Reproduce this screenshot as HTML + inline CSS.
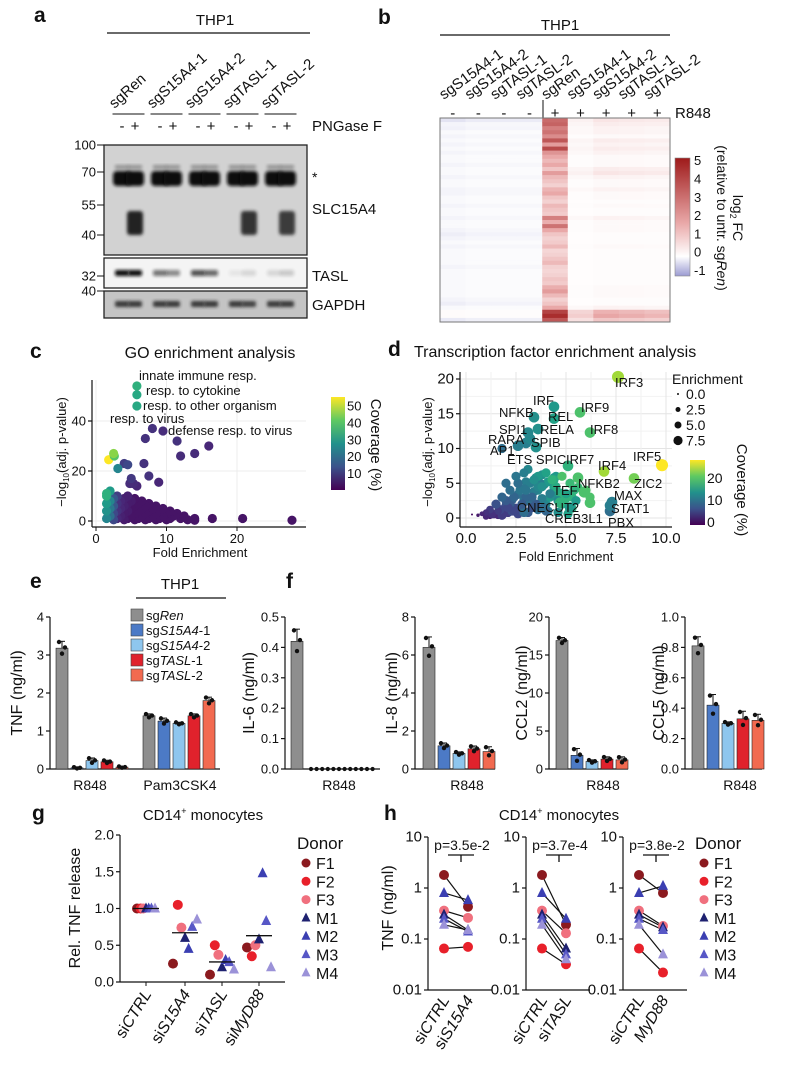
<!DOCTYPE html>
<html><head><meta charset="utf-8"><style>
html,body{margin:0;padding:0;background:#fff;}
svg{display:block;font-family:"Liberation Sans",Arial,sans-serif;}
text{fill:#111;}
.pl{font-size:21px;font-weight:bold;}
.tk{font-size:12px;}
</style></head><body>
<svg id="fig" width="800" height="1067" viewBox="0 0 800 1067">
<defs>
<filter id="blur1" x="-20%" y="-50%" width="140%" height="200%"><feGaussianBlur stdDeviation="1.6"/></filter>
<linearGradient id="hmgrad" x1="0" y1="1" x2="0" y2="0">
<stop offset="0" stop-color="#9b9bd2"/><stop offset="0.1667" stop-color="#ffffff"/><stop offset="0.45" stop-color="#e9a8a8"/><stop offset="1" stop-color="#9e1a1a"/></linearGradient>
<linearGradient id="virgrad" x1="0" y1="1" x2="0" y2="0">
<stop offset="0" stop-color="#440154"/><stop offset="0.25" stop-color="#3b528b"/><stop offset="0.5" stop-color="#21918c"/><stop offset="0.75" stop-color="#5ec962"/><stop offset="1" stop-color="#fde725"/></linearGradient>
</defs>

<text class="pl" x="34" y="22">a</text>
<text class="pl" x="378" y="24">b</text>
<text class="pl" x="30" y="358">c</text>
<text class="pl" x="388" y="356">d</text>
<text class="pl" x="30" y="588">e</text>
<text class="pl" x="286" y="588">f</text>
<text class="pl" x="32" y="820">g</text>
<text class="pl" x="384" y="820">h</text>

<text x="215" y="25" font-size="15" text-anchor="middle">THP1</text>
<line x1="107" y1="33" x2="310" y2="33" stroke="#111" stroke-width="1.2"/>
<text x="312" y="131" font-size="15">PNGase F</text>
<rect x="104" y="145" width="203" height="110" fill="#d2d2d2" stroke="#222" stroke-width="1.3"/>
<rect x="104" y="258" width="203" height="30" fill="#f4f4f4" stroke="#222" stroke-width="1.3"/>
<rect x="104" y="291" width="203" height="27" fill="#c4c4c4" stroke="#222" stroke-width="1.3"/>
<g id="blotBands"></g>
<text x="312" y="182" font-size="14">*</text>
<text x="312" y="214" font-size="15">SLC15A4</text>
<text x="312" y="281" font-size="15">TASL</text>
<text x="312" y="310" font-size="15">GAPDH</text>
<g id="mw" font-size="13" text-anchor="end"></g>

<text x="560" y="30" font-size="15" text-anchor="middle">THP1</text>
<line x1="440" y1="35" x2="670" y2="35" stroke="#111" stroke-width="1.2"/>
<text x="675" y="118" font-size="15">R848</text>
<line x1="543" y1="100" x2="543" y2="127" stroke="#111" stroke-width="1"/>
<g id="heat"></g>
<rect x="440" y="118" width="230" height="204" fill="none" stroke="#777" stroke-width="1"/>
<rect x="675" y="158" width="15" height="118" fill="url(#hmgrad)" stroke="#888" stroke-width="0.6"/>
<g id="hmcb" font-size="13"></g>
<text transform="translate(733,218) rotate(90)" font-size="14" text-anchor="middle">log<tspan font-size="9" dy="3">2</tspan><tspan dy="-3"> FC</tspan></text>
<text transform="translate(717,218) rotate(90)" font-size="14" text-anchor="middle">(relative to untr. sg<tspan font-style="italic">Ren</tspan>)</text>

<text x="210" y="358" font-size="16" text-anchor="middle">GO enrichment analysis</text>
<text transform="translate(66,452) rotate(-90)" font-size="13" text-anchor="middle">−log<tspan font-size="8" dy="3">10</tspan><tspan dy="-3">(adj. p-value)</tspan></text>
<text x="200" y="557" font-size="13" text-anchor="middle">Fold Enrichment</text>
<rect x="331" y="397" width="14" height="93" fill="url(#virgrad)"/>
<text transform="translate(371,445) rotate(90)" font-size="15" text-anchor="middle">Coverage (%)</text>

<text x="414" y="357" font-size="16">Transcription factor enrichment analysis</text>
<text transform="translate(432,452) rotate(-90)" font-size="13" text-anchor="middle">−log<tspan font-size="8" dy="3">10</tspan><tspan dy="-3">(adj. p-value)</tspan></text>
<text x="566" y="561" font-size="13" text-anchor="middle">Fold Enrichment</text>
<text x="672" y="384" font-size="14">Enrichment</text>
<g id="enrLeg" font-size="13"></g>
<rect x="690" y="460" width="15" height="65" fill="url(#virgrad)"/>
<text transform="translate(737,490) rotate(90)" font-size="15" text-anchor="middle">Coverage (%)</text>

<text x="180" y="589" font-size="15" text-anchor="middle">THP1</text>
<line x1="136" y1="598" x2="226" y2="598" stroke="#111" stroke-width="1.2"/>
<g id="eLegend" font-size="13"></g>

<text x="203" y="820" font-size="15" text-anchor="middle">CD14<tspan font-size="9" dy="-6">+</tspan><tspan dy="6"> monocytes</tspan></text>
<text x="559" y="820" font-size="15" text-anchor="middle">CD14<tspan font-size="9" dy="-6">+</tspan><tspan dy="6"> monocytes</tspan></text>
<text transform="translate(80,908) rotate(-90)" font-size="16" text-anchor="middle">Rel. TNF release</text>
<text transform="translate(393,908) rotate(-90)" font-size="16" text-anchor="middle">TNF (ng/ml)</text>
<g id="donorLeg" font-size="15"></g>
<g id="plots"></g>
</svg>

<script>
// ---------------- DATA ----------------
const laneCenters=[122,135,160,173,198,211,236,249,274,287];
const laneNames=['sgRen','sgS15A4-1','sgS15A4-2','sgTASL-1','sgTASL-2'];
const slcSmear=[0,1,0,0,0,0,0,0.9,0,0.85];
const taslBand=[1,1,0.55,0.45,0.7,0.6,0.06,0.12,0.12,0.18];
const gapdhBand=[0.85,0.85,0.85,0.85,0.85,0.85,0.85,0.8,0.85,0.85];
const mwLabels=['100','70','55','40','32','40'];
const mwY=[145,172,205,235,276,291];
const hmCols=['sgS15A4-1','sgS15A4-2','sgTASL-1','sgTASL-2','sgRen','sgS15A4-1','sgS15A4-2','sgTASL-1','sgTASL-2'];
const hmSign=['-','-','-','-','+','+','+','+','+'];
const renPlus=[3,3.2,2.5,2.8,2.2,3.5,1.8,3.8,2,1.5,1.2,1.5,1,1.8,1.2,1,0.8,1.3,1.5,1,0.8,1.2,1,0.9,2.5,1.4,2.8,1.5,1,0.8,0.9,1.2,0.7,0.8,1,1.2,0.8,0.7,0.8,1,0.9,1.4,1.8,1.2,0.8,1,1.5,4,4.5,3.5];
const koPlus=[0.4,0.3,0.2,0.2,0.1,0.3,0.2,0.3,0.2,0.1,0.1,0.1,0.3,0.4,0.2,0.1,0.1,0.2,0.1,0.1,0.05,0.1,0.05,0.05,0.2,0.1,0.1,0.1,0.05,0.05,0.05,0.1,0.05,0.05,0.05,0.05,0.05,0.05,0.05,0.05,0.05,0.1,0.1,0.1,0.05,0.05,0.2,1.2,1.4,0.9];
const untreated=[-0.2,-0.08,-0.1,-0.04,-0.08,-0.04,-0.08,-0.04,-0.08,-0.04,-0.04,-0.08,-0.04,-0.04,-0.08,-0.04,-0.04,-0.08,-0.08,-0.04,-0.04,-0.08,-0.04,-0.04,-0.08,-0.04,-0.04,-0.08,-0.12,-0.08,-0.04,-0.08,-0.04,-0.04,-0.04,-0.04,-0.08,-0.04,-0.04,-0.04,-0.04,-0.04,-0.04,-0.04,-0.08,-0.12,-0.04,0.05,0.05,-0.15];
const colWeight=[1.4,1,1,1,1,0.6,1.1,1.0,0.9];
const hmTicks=[-1,0,1,2,3,4,5];
const cFold=[5.8,5.8,5.8,8,9.5,7,11.5,16,12,14,2.5,2.6,1.8,3.1,4.5,4,6.8,5,7.5,4.8,5.3,5.8,8.9,1.5,2,
1.5,1.5,1.5,1.5,2,2,2,2.5,2.5,2.5,2.5,3,3,3,3,3.5,3.5,3.5,4,4,4,4,4.5,4.5,4.5,4.5,5,5,5,5.5,5.5,5.5,5.5,6,6,6,6.5,6.5,6.5,7,7,7,7.5,7.5,7.5,8,8,8.5,8.5,8.5,9,9,9.5,9.5,10,10,10.5,10.5,11,11.5,12,12.5,13,14,14,16.5,20.8,27.8];
const cLogP=[54,50.5,46,37,36,33,32,30,26,27,27,26,24.5,21,22.5,23,23,17,18,15,15,14,15.5,11,12,
10,7,4,1,8,5,2,9,6,3,0.5,10,7,4,1,8,5,2,9,6,3,0.5,10,7,4,1,8,5,2,9,6,3,0.5,7,4,1,8,5,2,6,3,0.5,7,4,1,5,2,6,3,0.5,4,1,5,2,3,0.5,4,1,2,3,1,2,0.5,1,0.3,1,1,0.3];
const cCov=[35,33,33,8,7,8,8,6,7,7,45,40,55,25,12,10,8,9,8,7,7,6,6,35,30,
35,30,28,25,25,22,20,15,15,12,12,10,8,8,6,6,6,5,5,5,4,4,5,4,4,3,4,3,3,3,3,3,3,3,3,3,3,3,3,3,3,3,3,3,3,3,3,3,3,3,3,3,3,3,3,3,3,3,3,3,3,3,3,3,3,3,3,3];
const cXTicks=[0,10,20];const cYTicks=[0,20,40];const cCbTicks=[10,20,30,40,50];
const dFold=[7.6,4.4,4.4,5.7,3.4,3.6,3.1,6.2,3.2,3.0,1.8,2.6,3.5,5.1,6.9,9.8,8.4,5.6,5.9,7.3,7.2,7.2,4.7,5.2,6.2,
0.3,0.6,0.8,1.0,1.2,1.3,1.5,1.6,1.8,2.0,2.1,2.2,2.4,2.5,2.6,2.8,2.9,3.0,3.1,3.3,3.4,3.5,3.6,3.8,3.9,4.0,4.2,4.3,4.5,4.6,4.8,5.0,5.2,5.4,5.5,2.0,2.4,2.7,3.0,3.3,3.6,4.0,4.4,4.8,1.4,2.2,2.9,3.7,4.5,5.3,6.0,
1.0,1.4,1.7,2.0,2.3,2.6,2.9,3.2,3.5,3.8,4.1,4.4,4.7,5.0,1.8,2.3,2.8,3.3,3.8,4.3,4.8,5.3,2.6,3.1,3.6,4.1,4.6,5.1,2.9,3.4,3.9,4.4,3.0,3.6,4.2,1.2,1.6,2.1,2.5,3.0,3.5,4.0,4.6,5.6,6.2];
const dLogP=[20.3,16,14.3,15.2,14.5,12.8,12.3,12.3,11.4,10.8,10,10.4,10.2,7.5,6.7,7.6,5.7,5.8,3.7,2.3,1.8,1,2.2,1.5,2.2,
0.5,0.4,0.6,0.8,1.2,0.5,2,1,3,2.5,1.5,4,3,6,5,2,6.5,4,7,3,5.5,2,6,4.5,1.5,6.5,3.5,5.5,4.5,2.5,6,3.5,5,4,2.5,5,1,4,3,1.5,4.5,1,5.5,3,0.5,2,0.8,5,6,3,4,
0.2,0.6,1.2,1.8,2.6,3.4,4.2,5.0,5.8,6.2,5.2,4.4,3.6,2.8,0.4,1.0,1.6,2.2,2.8,3.4,2.0,1.4,0.6,0.8,1.2,1.0,0.8,0.6,2.6,3.8,4.8,5.8,5.2,4.0,3.0,0.3,0.4,0.8,1.4,2.4,1.8,2.0,3.2,4.4,3.0];
const dCov=[24,15,16,20,14,14,13,20,13,12,10,12,14,18,24,28,22,20,20,12,12,10,18,15,20,
1,2,3,4,5,4,7,5,9,8,6,10,9,11,10,8,12,11,13,9,14,8,15,14,10,16,12,18,17,13,20,16,19,18,15,10,6,11,9,7,13,9,17,18,3,8,10,12,15,18,20,
3,4,6,7,9,10,11,12,13,14,15,16,17,18,5,7,8,10,12,14,16,18,6,8,10,12,14,16,11,12,13,15,12,13,15,2,3,5,6,9,10,13,15,19,20];
const dEnr=[7,6,6,6,6,6,6,6,6,6,5,6,6,6,6,7,6,6,6,6,6,6,6,6,6,
0,1,2,3,4,4,5,4,5,5,5,5,5,5,5,5,5,5,5,5,5,5,5,5,5,5,5,5,5,5,5,5,5,5,5,5,5,5,5,5,5,5,5,5,4,5,5,5,5,5,5,
3,4,5,5,5,5,5,5,5,5,5,5,5,5,5,5,5,5,5,5,5,5,5,5,5,5,5,5,5,5,5,5,5,5,5,3,4,5,5,5,5,5,5,5,5];
const dXTicks=[0,2.5,5,7.5,10];const dXLabels=['0.0','2.5','5.0','7.5','10.0'];const dYTicks=[0,5,10,15,20];
const groupNames=['sgRen','sgS15A4-1','sgS15A4-2','sgTASL-1','sgTASL-2'];
const groupColors=['#8e8e8e','#4c7ac6','#8ec6ee','#e0222c','#f26a50'];
const tnfR848=[3.18,0.03,0.22,0.19,0.05];
const tnfR848Sd=[0.18,0.02,0.07,0.04,0.02];
const tnfPam=[1.40,1.26,1.20,1.40,1.80];
const tnfPamSd=[0.05,0.08,0.03,0.05,0.09];
const il6=[0.42,0,0,0,0];const il6Sd=[0.04,0,0,0,0];
const il8=[6.4,1.22,0.82,1.06,0.92];const il8Sd=[0.55,0.15,0.08,0.15,0.25];
const ccl2=[16.9,1.8,1.0,1.3,1.2];const ccl2Sd=[0.4,0.9,0.2,0.3,0.4];
const ccl5=[0.81,0.42,0.30,0.33,0.32];const ccl5Sd=[0.06,0.07,0.01,0.05,0.04];
const tnfTicks=[0,1,2,3,4];const il6Ticks=[0,0.1,0.2,0.3,0.4,0.5];const il8Ticks=[0,2,4,6,8];
const ccl2Ticks=[0,5,10,15,20];const ccl5Ticks=[0,0.2,0.4,0.6,0.8,1.0];
const donors=['F1','F2','F3','M1','M2','M3','M4'];
const donorColors=['#8b1a1f','#e8202a','#f0707e','#1e2170','#3b3fb2','#5757c6','#9b92d8'];
const donorShape=['c','c','c','t','t','t','t'];
const gCats=['siCTRL','siS15A4','siTASL','siMyD88'];
const gCTRL=[1,1,1,1,1,1,1];
const gS15A4=[0.25,1.05,0.74,0.6,0.45,0.75,0.85];
const gTASL=[0.1,0.5,0.37,0.2,0.3,0.27,0.17];
const gMyD88=[0.47,0.35,0.5,0.58,1.48,0.83,0.2];
const gTicks=[0,0.5,1.0,1.5,2.0];const gTickLabels=['0.0','0.5','1.0','1.5','2.0'];
const hCTRL=[1.8,0.065,0.36,0.3,0.8,0.25,0.19];
const hS15A4=[0.43,0.07,0.26,0.15,0.58,0.14,0.15];
const hTASL=[0.19,0.032,0.13,0.065,0.25,0.05,0.04];
const hMyD88=[0.8,0.022,0.18,0.17,1.1,0.15,0.05];
const hPvals=['p=3.5e-2','p=3.7e-4','p=3.8e-2'];
const hTicks=[0.01,0.1,1,10];const hTickLabels=['0.01','0.1','1','10'];

// ---------------- HELPERS ----------------
const NS='http://www.w3.org/2000/svg';
const root=document.getElementById('plots');
function mk(tag,attrs,parent){const e=document.createElementNS(NS,tag);for(const k in attrs)e.setAttribute(k,attrs[k]);(parent||root).appendChild(e);return e;}
function tx(x,y,s,attrs,parent){const e=mk('text',Object.assign({x:x,y:y},attrs||{}),parent);e.textContent=s;return e;}
const VIR=['#440154','#482878','#3e4989','#31688e','#26828e','#1f9e89','#35b779','#6ece58','#b5de2b','#fde725'];
function hex2rgb(h){return [parseInt(h.substr(1,2),16),parseInt(h.substr(3,2),16),parseInt(h.substr(5,2),16)];}
function lerpC(a,b,t){const A=hex2rgb(a),B=hex2rgb(b);return 'rgb('+A.map((v,i)=>Math.round(v+(B[i]-v)*t)).join(',')+')';}
function viridis(t){t=Math.max(0,Math.min(1,t));const p=t*(VIR.length-1);const i=Math.min(VIR.length-2,Math.floor(p));return lerpC(VIR[i],VIR[i+1],p-i);}
function hmColor(v){if(v<0){return lerpC('#ffffff','#9b9bd2',Math.min(1,-v));}if(v<1.5)return lerpC('#ffffff','#e9a8a8',v/1.5);return lerpC('#e9a8a8','#9e1a1a',Math.min(1,(v-1.5)/3.5));}
function yAxis(x,yTop,yBot,ticks,labels,scale,name,fs){
  const l=mk('line',{x1:x,y1:yTop,x2:x,y2:yBot,stroke:'#111','stroke-width':1.2});
  
  
  ticks.forEach((t,i)=>{const y=scale(t);
    const tk=mk('line',{x1:x-4,y1:y,x2:x,y2:y,stroke:'#111','stroke-width':1.2});
    
    
    const lb=tx(x-6,y+4.5,labels?labels[i]:String(t),{'font-size':fs||13,'text-anchor':'end'});
    
    });
}
function xLine(x1,x2,y,name){const l=mk('line',{x1:x1,y1:y,x2:x2,y2:y,stroke:'#111','stroke-width':1.2});
  
  }
function marker(shape,x,y,s,color,parent){
  let e;
  if(shape==='c'){e=mk('circle',{cx:x,cy:y,r:s,fill:color},parent);}
  else{e=mk('polygon',{points:(x)+','+(y-s*1.2)+' '+(x-s)+','+(y+s*0.8)+' '+(x+s)+','+(y+s*0.8),fill:color},parent);}
  return e;
}

// ---------------- PANEL A ----------------
(function(){
  const g=document.getElementById('blotBands');
  laneCenters.forEach((cx,i)=>{
    const b=mk('rect',{x:cx-9,y:171,width:18,height:15,rx:4,fill:'#111',filter:'url(#blur1)'},g);
    
    
    const b2=mk('rect',{x:cx-7,y:165,width:14,height:4,fill:'#555',opacity:0.5,filter:'url(#blur1)'},g);
    
    
    if(slcSmear[i]>0){const s=mk('rect',{x:cx-8,y:211,width:16,height:24,rx:3,fill:'#222',opacity:slcSmear[i],filter:'url(#blur1)'},g);
      
      }
    const t=mk('rect',{x:cx-7,y:270,width:14,height:6,rx:2,fill:'#111',opacity:taslBand[i],filter:'url(#blur1)'},g);
    
    
    const gd=mk('rect',{x:cx-7,y:301,width:14,height:6,rx:2,fill:'#222',opacity:gapdhBand[i],filter:'url(#blur1)'},g);
    
    
    const sg=tx(cx,131,i%2===0?'-':'+',{'font-size':15,'text-anchor':'middle'},g);
    
    
  });
  laneNames.forEach((n,k)=>{
    const c=(laneCenters[2*k]+laneCenters[2*k+1])/2;
    const ln=mk('line',{x1:c-16,y1:114,x2:c+16,y2:114,stroke:'#111','stroke-width':1},g);
    
    
    const t=tx(0,0,n,{'font-size':15,transform:'translate('+(c-14)+',109) rotate(-42)'},g);
    
    
  });
  const mw=document.getElementById('mw');
  mwLabels.forEach((m,i)=>{
    const t=tx(96,mwY[i]+4.5,m,{},mw);
    
    
    const l=mk('line',{x1:97,y1:mwY[i],x2:104,y2:mwY[i],stroke:'#111','stroke-width':1},mw);
    
    
  });
})();

// ---------------- PANEL B ----------------
(function(){
  const g=document.getElementById('heat');
  const x0=440,y0=118,cw=230/hmCols.length,rh=204/renPlus.length;
  for(let c=0;c<hmCols.length;c++){
    for(let r=0;r<renPlus.length;r++){
      let v;
      if(c<4)v=untreated[r]*colWeight[c];else if(c===4)v=renPlus[r];else v=koPlus[r]*colWeight[c];
      const e=mk('rect',{x:x0+c*cw,y:y0+r*rh,width:cw+0.3,height:rh+0.3,fill:hmColor(v)},g);
      
      
    }
    const cx=x0+c*cw+cw/2;
    const t=tx(0,0,hmCols[c],{'font-size':15,transform:'translate('+(cx-9)+',100) rotate(-36)'},g);
    
    
    const s=tx(cx,118,hmSign[c],{'font-size':15,'text-anchor':'middle'},g);
    
    
  }
  const cb=document.getElementById('hmcb');
  hmTicks.forEach(t=>{const y=270-(t+1)*18.3;
    const l=tx(694,y+5,String(t),{},cb);
    
    });
})();

// ---------------- PANEL C ----------------
(function(){
  const xs=v=>96+7.05*v, ys=v=>521-2.5*v;
  cYTicks.forEach(t=>{const gl=mk('line',{x1:92,y1:ys(t),x2:306,y2:ys(t),stroke:'#ececec','stroke-width':1});
    
    });
  cXTicks.forEach(t=>{const gl=mk('line',{x1:xs(t),y1:380,x2:xs(t),y2:527,stroke:'#ececec','stroke-width':1});
    
    });
  const order=cFold.map((_,i)=>i).reverse();
  order.forEach(i=>{const p=mk('circle',{cx:xs(cFold[i]),cy:ys(cLogP[i]),r:4.6,fill:viridis(cCov[i]/55)});
    
    });
  yAxis(92,380,527,cYTicks,null,ys,'c',13);
  xLine(92,306,527,'c');
  cXTicks.forEach(t=>{const tk=mk('line',{x1:xs(t),y1:527,x2:xs(t),y2:531,stroke:'#111'});
    
    
    const l=tx(xs(t),543,String(t),{'font-size':13,'text-anchor':'middle'});
    
    });
  cCbTicks.forEach(t=>{const y=490-t/55*93;
    const l=tx(347,y+5,String(t),{'font-size':13});
    
    });
  const labs=[['innate immune resp.',139,380],['resp. to cytokine',146,395],['resp. to other organism',143,410],['resp. to virus',110,423],['defense resp. to virus',168,435]];
  labs.forEach(a=>{const t=tx(a[1],a[2],a[0],{'font-size':13});
    
    });
})();

// ---------------- PANEL D ----------------
(function(){
  const xs=v=>466+20*v, ys=v=>518-6.95*v;
  for(let t=0;t<=20;t+=2.5){const gl=mk('line',{x1:460,y1:ys(t),x2:672,y2:ys(t),stroke:t%5===0?'#e4e4e4':'#f2f2f2','stroke-width':1});
    
    }
  for(let t=0;t<=10;t+=1.25){const gl=mk('line',{x1:xs(t),y1:372,x2:xs(t),y2:527,stroke:t%2.5===0?'#e4e4e4':'#f2f2f2','stroke-width':1});
    
    }
  const rOf=e=>1+e*0.72;
  const order=dFold.map((_,i)=>i).reverse();
  order.forEach(i=>{const p=mk('circle',{cx:xs(dFold[i]),cy:ys(dLogP[i]),r:rOf(dEnr[i]),fill:viridis(dCov[i]/28)});
    
    });
  yAxis(460,372,527,dYTicks,null,ys,'d',15);
  xLine(460,672,527,'d');
  dXTicks.forEach((t,i)=>{const l=tx(xs(t),543,dXLabels[i],{'font-size':15,'text-anchor':'middle'});
    
    });
  const labs=[['IRF3',615,387],['IRF',533,405],['IRF9',581,412],['REL',548,421],['NFKB',499,417],['SPI1',499,434],['RELA',540,434],['IRF8',590,434],['RARA',488,444],['SPIB',531,447],['AP1',490,455],['ETS SPIC',507,464],['IRF7',566,464],['IRF4',598,470],['IRF5',633,461],['NFKB2',578,488],['ZIC2',634,488],['TEF',553,495],['MAX',614,500],['STAT1',611,513],['ONECUT2',517,512],['CREB3L1',545,523],['PBX',608,527]];
  labs.forEach(a=>{const t=tx(a[1],a[2],a[0],{'font-size':13});
    
    });
  const el=document.getElementById('enrLeg');
  ['0.0','2.5','5.0','7.5'].forEach((s,i)=>{const y=394+i*15.5;
    const c=mk('circle',{cx:678,cy:y,r:[1,2.5,3.5,4.6][i],fill:'#111'},el);
    
    
    const t=tx(686,y+5,s,{'font-size':14},el);
    
    });
  [0,10,20].forEach(t=>{const y=522-t*2.2;
    const l=tx(707,y+5,String(t),{'font-size':14});
    
    });
})();

// ---------------- PANEL E / F ----------------
function barGroup(vals,sds,x0,scale,name){
  vals.forEach((v,i)=>{const x=x0+i*15;const y=scale(v),yb=scale(0);
    const hi=scale(v+sds[i]);
    const el=mk('line',{x1:x+6,y1:hi,x2:x+6,y2:y,stroke:'#111','stroke-width':1});
    
    
    const cap=mk('line',{x1:x+3,y1:hi,x2:x+9,y2:hi,stroke:'#111','stroke-width':1});
    
    
    const b=mk('rect',{x:x,y:Math.min(y,yb-0.5),width:12,height:Math.max(0.5,yb-y),fill:groupColors[i],stroke:'#222','stroke-width':0.6});
    
    
    [[-3,sds[i]*0.9],[0,-sds[i]*0.8],[3,sds[i]*0.1]].forEach(d=>{
      const p=mk('circle',{cx:x+6+d[0],cy:scale(v+d[1]),r:2.2,fill:'#111'});
      
      });
  });
}
(function(){
  const yT=v=>769-38*v;
  yAxis(50,617,769,tnfTicks,null,yT,'tnf',13);xLine(50,220,769,'tnf');
  barGroup(tnfR848,tnfR848Sd,56,yT,'tnf-r848');barGroup(tnfPam,tnfPamSd,143,yT,'tnf-pam3csk4');
  const y6=v=>769-304*v;
  yAxis(285,617,769,il6Ticks,il6Ticks.map(v=>v.toFixed(1)),y6,'il6',13);xLine(285,380,769,'il6');
  barGroup([il6[0]],[il6Sd[0]],291,y6,'il6');
  for(let k=0;k<12;k++){const p=mk('circle',{cx:311+k*5.6,cy:y6(il6[1+Math.floor(k/3)]||0),r:2.1,fill:'#111'});
    
    }
  const y8=v=>769-19*v;
  yAxis(415,617,769,il8Ticks,null,y8,'il8',13);xLine(415,495,769,'il8');barGroup(il8,il8Sd,423,y8,'il8');
  const y2=v=>769-7.6*v;
  yAxis(549,617,769,ccl2Ticks,null,y2,'ccl2',13);xLine(549,628,769,'ccl2');barGroup(ccl2,ccl2Sd,556,y2,'ccl2');
  const y5=v=>769-152*v;
  yAxis(685,617,769,ccl5Ticks,ccl5Ticks.map(v=>v.toFixed(1)),y5,'ccl5',13);xLine(685,762,769,'ccl5');barGroup(ccl5,ccl5Sd,692,y5,'ccl5');
  [['R848',90],['Pam3CSK4',180],['R848',339],['R848',467],['R848',603],['R848',740]].forEach(a=>{
    const t=tx(a[1],790,a[0],{'font-size':14,'text-anchor':'middle'});
    
    });
  [['TNF (ng/ml)',22],['IL-6 (ng/ml)',254],['IL-8 (ng/ml)',397],['CCL2 (ng/ml)',527],['CCL5 (ng/ml)',664]].forEach(a=>{
    const t=tx(0,0,a[0],{'font-size':16,'text-anchor':'middle',transform:'translate('+a[1]+',693) rotate(-90)'});
    
    });
  const lg=document.getElementById('eLegend');
  const legTxt=[['sg','Ren',''],['sg','S15A4','-1'],['sg','S15A4','-2'],['sg','TASL','-1'],['sg','TASL','-2']];
  legTxt.forEach((a,i)=>{const y=609+i*15;
    const r=mk('rect',{x:131,y:y,width:12,height:12,fill:groupColors[i],stroke:'#444','stroke-width':0.6},lg);
    
    
    const t=mk('text',{x:146,y:y+11,'font-size':13},lg);
    t.innerHTML=a[0]+'<tspan font-style="italic">'+a[1]+'</tspan>'+a[2];
    
    });
})();

// ---------------- PANEL G ----------------
const jitter=[-10,-6,-3,0,3,6,10];
(function(){
  const ys=v=>982-73.5*v;
  const catX=[146,185,222,259];
  yAxis(120,835,982,gTicks,gTickLabels,ys,'g',14);xLine(120,285,982,'g');
  const series=[gCTRL,gS15A4,gTASL,gMyD88];
  series.forEach((arr,c)=>{
    arr.forEach((v,i)=>{const m=marker(donorShape[i],catX[c]+jitter[i]*(c===0?0.9:1.2),ys(v),5,donorColors[i]);
      
      });
    const mean=arr.reduce((a,b)=>a+b,0)/arr.length;
    const ml=mk('line',{x1:catX[c]-13,y1:ys(mean),x2:catX[c]+13,y2:ys(mean),stroke:'#111','stroke-width':1.3});
    
    
    const tk=mk('line',{x1:catX[c],y1:982,x2:catX[c],y2:986,stroke:'#111'});
    
    
    const t=mk('text',{'font-size':16,'text-anchor':'end',transform:'translate('+(catX[c]+6)+',994) rotate(-58)'});
    t.innerHTML='si<tspan font-style="italic">'+gCats[c].slice(2)+'</tspan>';
    
    
  });
})();

// ---------------- PANEL H ----------------
(function(){
  const ys=v=>990-51*(Math.log10(v)+2);
  const axes=[428,526,623];
  const pairs=[[hCTRL,hS15A4,'S15A4'],[hCTRL,hTASL,'TASL'],[hCTRL,hMyD88,'MyD88']];
  pairs.forEach((p,k)=>{
    const ax=axes[k],x1=ax+16,x2=ax+40;
    yAxis(ax,837,990,hTicks,hTickLabels,ys,'h'+(k+1),15);xLine(ax,ax+64,990,'h'+(k+1));
    p[0].forEach((v,i)=>{const l=mk('line',{x1:x1,y1:ys(v),x2:x2,y2:ys(p[1][i]),stroke:'#111','stroke-width':1.2});
      
      });
    p[0].forEach((v,i)=>{
      const a=marker(donorShape[i],x1,ys(v),5,donorColors[i]);
      
      
      const b=marker(donorShape[i],x2,ys(p[1][i]),5,donorColors[i]);
      
      });
    const pt=tx(ax+34,850,hPvals[k],{'font-size':14,'text-anchor':'middle'});
    
    
    const br=mk('path',{d:'M'+(ax+20)+',855 H'+(ax+46)+' M'+(ax+33)+',855 V862',stroke:'#111',fill:'none','stroke-width':1.3});
    
    
    const t1=mk('text',{'font-size':16,'text-anchor':'end',transform:'translate('+(x1+6)+',1000) rotate(-58)'});
    t1.innerHTML='si<tspan font-style="italic">CTRL</tspan>';
    
    
    const t2=mk('text',{'font-size':16,'text-anchor':'end',transform:'translate('+(x2+6)+',1000) rotate(-58)'});
    t2.innerHTML=(k===2?'':'si')+'<tspan font-style="italic">'+p[2]+'</tspan>';
    
    
  });
  const lg=document.getElementById('donorLeg');
  [[297,306],[695,704]].forEach((pos,j)=>{
    const tt=tx(pos[0],849,'Donor',{'font-size':17},lg);
    
    
    donors.forEach((d,i)=>{const y=863+i*18.3;
      const m=marker(donorShape[i],pos[1],y,4.5,donorColors[i],lg);
      
      
      const t=tx(pos[1]+10,y+6,d,{'font-size':16},lg);
      
      });
  });
})();
</script>
</body></html>
